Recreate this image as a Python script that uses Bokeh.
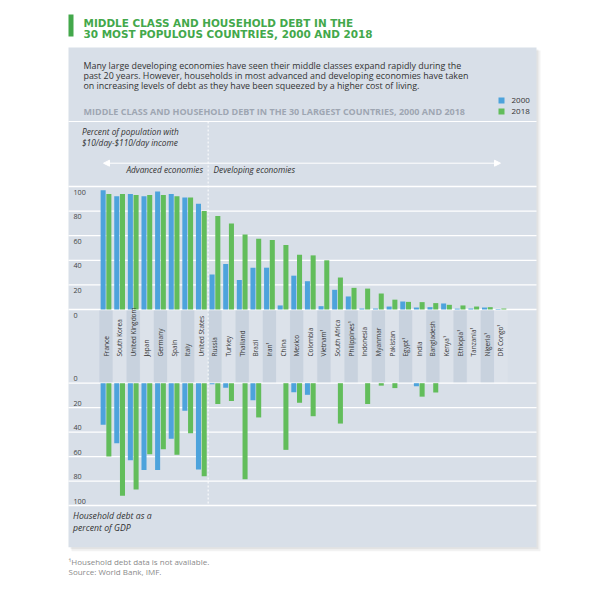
import math
from bokeh.plotting import figure
from bokeh.models import Range1d, Arrow, NormalHead
from bokeh.core.properties import value
from bokeh.embed import file_html
from bokeh.resources import INLINE

# ---------------- data ----------------
countries = ["France", "South Korea", "United Kingdom", "Japan", "Germany", "Spain",
             "Italy", "United States", "Russia", "Turkey", "Thailand", "Brazil",
             "Iran¹", "China", "Mexico", "Colombia", "Vietnam¹", "South Africa",
             "Philippines¹", "Indonesia", "Myanmar", "Pakistan", "Egypt¹", "India",
             "Bangladesh", "Kenya¹", "Ethiopia¹", "Tanzania¹", "Nigeria¹", "DR Congo¹"]

# Percent of population with $10/day-$110/day income
middle_2000 = [97, 92, 94, 92, 96, 94, 91, 86, 28.5, 37, 24, 34, 34, 3.3, 27.5,
               23, 2.7, 16, 10.6, 0.8, 0.8, 2.4, 6.5, 1.6, 1.9, 4.9, 0.7, 0.8, 1.6, 0.4]
middle_2018 = [94, 94, 93, 93, 93, 92, 91, 80, 76, 70, 61, 57.5, 56.5, 52.5, 44.5,
               44, 40, 26, 17.6, 17, 13, 8, 6.2, 6, 5.2, 3.8, 3.3, 2.4, 1.9, 0.8]

# Household debt as a percent of GDP (None = not available)
debt_2000 = [34, 49, 63, 71, 71, 45.5, 22.5, 70.5, 0.8, 3.8, None, 14, None, None, 7.4,
             9.5, None, None, None, None, None, None, None, 2.5, None, None, None, None, None, None]
debt_2018 = [60, 92, 87, 58, 54, 58.5, 41, 76, 17, 14.5, 78.5, 28, None, 54.5, 16,
             27, None, 33, None, 17, 2, 4, None, 11, 7.6, None, None, None, None, None]

ticks = [0, 20, 40, 60, 80, 100]
series_names = ["2000", "2018"]

# ---------------- layout constants (pixels) ----------------
W, H = 612, 589
X0, DX = 105.5, 13.62          # first category centre, category spacing
TOP0, TOPK = 309.0, 1.23        # upper chart baseline, px per unit
BOT0, BOTK = 382.7, 1.223       # lower chart baseline, px per unit
PL, PR, PT, PB = 68, 536, 47, 546.7   # panel box

BLUE = "#4da3dc"
GREEN = "#62bd5b"
PANEL = "#d8dfe8"
BAND = "#c8d2de"
BAND2 = "#dce2ea"
TITLE_GREEN = "#43a84b"
TXT = "#333333"

p = figure(width=W, height=H, output_backend="svg", toolbar_location=None,
           x_axis_location=None, y_axis_location=None, min_border=0,
           x_range=Range1d(-X0 / DX, (W - X0) / DX),
           y_range=Range1d(-(H - TOP0) / TOPK, TOP0 / TOPK))
p.outline_line_color = None
p.background_fill_color = "white"
p.border_fill_color = "white"
p.grid.visible = False
p.extra_x_ranges = {"px": Range1d(0, W)}
p.extra_y_ranges = {"px": Range1d(H, 0),
                    "bot": Range1d((H - BOT0) / BOTK, -BOT0 / BOTK)}

PX = dict(x_range_name="px", y_range_name="px")


def txt(x, y, s, size, color=TXT, style="normal", align="left", baseline="middle",
        font="Open Sans"):
    p.text(x=[x], y=[y], text=[s], text_font=value(font), text_font_size=f"{size}px",
           text_font_style=style, text_color=color, text_align=align,
           text_baseline=baseline, **PX)


# shadow + panel
p.quad(left=[PL + 3], right=[PR + 4], top=[PT + 3], bottom=[PB + 4],
       fill_color="black", fill_alpha=0.05, line_color=None, **PX)
p.quad(left=[PL + 2], right=[PR + 2], top=[PT + 2], bottom=[PB + 2],
       fill_color="black", fill_alpha=0.06, line_color=None, **PX)
p.quad(left=[PL], right=[PR], top=[PT], bottom=[PB],
       fill_color=PANEL, line_color=None, **PX)

# title
p.quad(left=[68], right=[73], top=[14], bottom=[36], fill_color=TITLE_GREEN,
       line_color=None, **PX)
txt(83, 22, "MIDDLE CLASS AND HOUSEHOLD DEBT IN THE", 10.45, TITLE_GREEN, "bold",
    font="DejaVu Sans")
txt(83, 33, "30 MOST POPULOUS COUNTRIES, 2000 AND 2018", 10.45, TITLE_GREEN, "bold",
    font="DejaVu Sans")

# intro text
txt(83, 65, "Many large developing economies have seen their middle classes expand rapidly during the", 8.9)
txt(83, 75, "past 20 years. However, households in most advanced and developing economies have taken", 8.9)
txt(83, 85, "on increasing levels of debt as they have been squeezed by a higher cost of living.", 8.9)
txt(83, 111, "MIDDLE CLASS AND HOUSEHOLD DEBT IN THE 30 LARGEST COUNTRIES, 2000 AND 2018",
    9.0, "#9ea6b2", "bold")

# legend
for yy, c, name in [(100, BLUE, series_names[0]), (111, GREEN, series_names[1])]:
    p.quad(left=[498], right=[504], top=[yy - 3], bottom=[yy + 3], fill_color=c,
           line_color=None, **PX)
    txt(511, yy, name, 8)

# separator line
p.segment(x0=[PL], x1=[PR], y0=[121], y1=[121], line_color="white", line_width=1, **PX)

# axis captions
txt(81.5, 131, "Percent of population with", 8.3, style="italic")
txt(81.5, 142, "$10/day-$110/day income", 8.3, style="italic")
txt(202.5, 169, "Advanced economies", 8.3, style="italic", align="right")
txt(213, 169, "Developing economies", 8.3, style="italic")
txt(72.5, 515, "Household debt as a", 8.7, style="italic")
txt(72.5, 527, "percent of GDP", 8.7, style="italic")

# arrow
p.add_layout(Arrow(x_start=103, y_start=162.7, x_end=500, y_end=162.7,
                   start=NormalHead(size=6, fill_color="white", line_color="white"),
                   end=NormalHead(size=6, fill_color="white", line_color="white"),
                   line_color="white", line_width=1, **PX))

# label strip bands
idx = list(range(len(countries)))
p.vbar(x=idx, width=0.97, top=TOP0, bottom=BOT0, y_range_name="px",
       fill_color=[BAND if i % 2 == 0 else BAND2 for i in idx], line_color=None)

# grid lines
p.segment(x0=[PL] * len(ticks), x1=[PR] * len(ticks), y0=ticks, y1=ticks,
          line_color="white", line_width=1.3, x_range_name="px")
p.segment(x0=[PL] * len(ticks), x1=[PR] * len(ticks), y0=ticks, y1=ticks,
          line_color="white", line_width=1.3, x_range_name="px", y_range_name="bot")

# divider advanced / developing
p.segment(x0=[7.5], x1=[7.5], y0=[121], y1=[505], line_color="white",
          line_width=1, line_dash="2 2", y_range_name="px")

# tick labels
tick_txt = [str(t) for t in ticks]
p.text(x=[73] * len(ticks), y=ticks, text=tick_txt, text_font=value("Open Sans"),
       text_font_size="7.2px", text_color="#444444", text_baseline="top", y_offset=3,
       x_range_name="px")
p.text(x=[73] * len(ticks), y=ticks, text=tick_txt, text_font=value("Open Sans"),
       text_font_size="7.2px", text_color="#444444", text_baseline="bottom", y_offset=-2,
       x_range_name="px", y_range_name="bot")

# upper bars (middle class)
OFF, BW = 0.21, 0.37
p.vbar(x=[i - OFF for i in idx], top=middle_2000, bottom=0, width=BW,
       fill_color=BLUE, line_color=None)
p.vbar(x=[i + OFF for i in idx], top=middle_2018, bottom=0, width=BW,
       fill_color=GREEN, line_color=None)

# lower bars (household debt)
d0 = [(i, v) for i, v in zip(idx, debt_2000) if v is not None]
d1 = [(i, v) for i, v in zip(idx, debt_2018) if v is not None]
p.vbar(x=[i - OFF for i, _ in d0], top=[v for _, v in d0], bottom=0, width=BW,
       fill_color=BLUE, line_color=None, y_range_name="bot")
p.vbar(x=[i + OFF for i, _ in d1], top=[v for _, v in d1], bottom=0, width=BW,
       fill_color=GREEN, line_color=None, y_range_name="bot")

# country labels
p.text(x=idx, y=[356] * len(idx), text=countries, angle=math.pi / 2,
       text_font=value("Open Sans"), text_font_size="6.5px", text_color=TXT,
       text_align="left", text_baseline="middle", y_range_name="px")

# footnotes
txt(68, 561, "¹Household debt data is not available.", 8.0, "#8a8a8a")
txt(68, 570.5, "Source: World Bank, IMF.", 8.0, "#8a8a8a")

open("out.html", "w").write(file_html(p, INLINE))
